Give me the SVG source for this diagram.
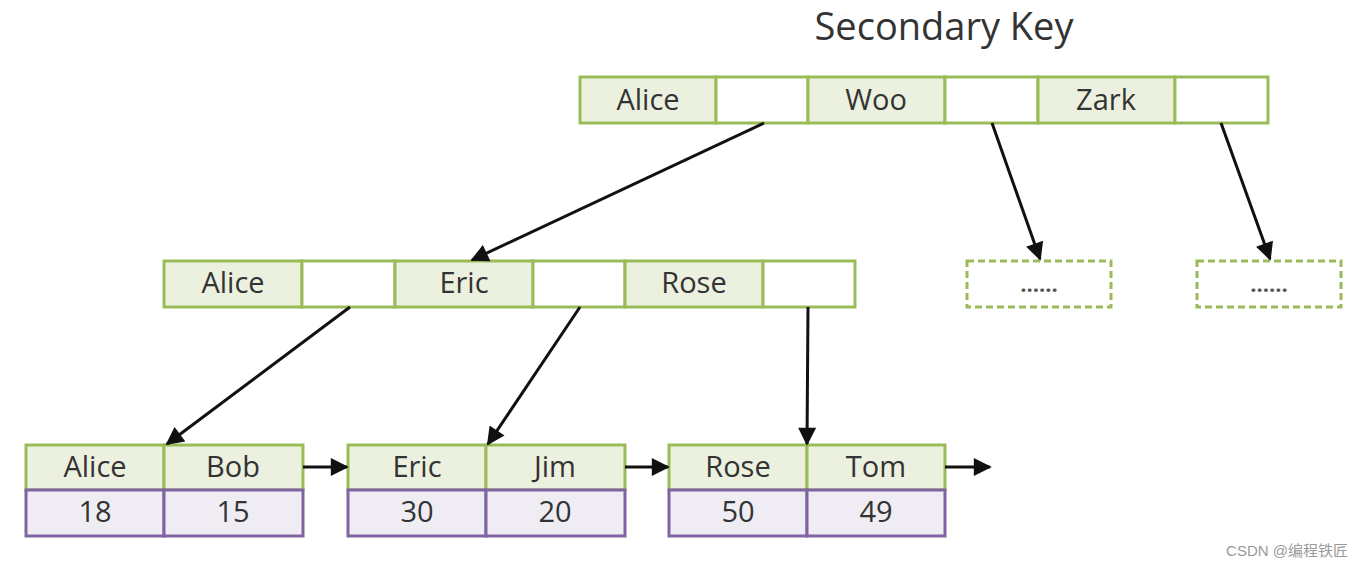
<svg xmlns="http://www.w3.org/2000/svg" width="1362" height="568" viewBox="0 0 1362 568">
<defs>
<style>
.k{fill:#ebf1de;stroke:#9bbb59;stroke-width:3}
.p{fill:#ffffff;stroke:#9bbb59;stroke-width:3}
.v{fill:#efecf4;stroke:#8064a2;stroke-width:3}
.d{fill:#ffffff;stroke:#9bbb59;stroke-width:3;stroke-dasharray:7 4}
.t{font-family:"Open Sans","Liberation Sans",sans-serif;font-size:29px;fill:#333333;text-anchor:middle}
.dots{font-family:"Open Sans","Liberation Sans",sans-serif;font-size:22px;font-weight:bold;fill:#555555;text-anchor:middle}
.c{stroke:#111111;stroke-width:3;fill:none;marker-end:url(#ah)}
</style>
<marker id="ah" viewBox="0 0 10 10" refX="9" refY="5" markerWidth="6.5" markerHeight="6" orient="auto" markerUnits="strokeWidth">
<path d="M0,0 L10,5 L0,10 z" fill="#111111"/>
</marker>
</defs>
<rect width="1362" height="568" fill="#ffffff"/>
<text x="944" y="40" font-family="Open Sans, Liberation Sans, sans-serif" font-size="38" fill="#333333" text-anchor="middle">Secondary Key</text>

<g id="root">
<rect class="k" x="580" y="77" width="136" height="46"/>
<rect class="p" x="716" y="77" width="92" height="46"/>
<rect class="k" x="808" y="77" width="137" height="46"/>
<rect class="p" x="945" y="77" width="93" height="46"/>
<rect class="k" x="1038" y="77" width="137" height="46"/>
<rect class="p" x="1175" y="77" width="93" height="46"/>
<text class="t" x="648" y="110">Alice</text>
<text class="t" x="876" y="110">Woo</text>
<text class="t" x="1106" y="110">Zark</text>
</g>

<g id="mid">
<rect class="k" x="164" y="261" width="138" height="46"/>
<rect class="p" x="302" y="261" width="93" height="46"/>
<rect class="k" x="395" y="261" width="138" height="46"/>
<rect class="p" x="533" y="261" width="92" height="46"/>
<rect class="k" x="625" y="261" width="138" height="46"/>
<rect class="p" x="763" y="261" width="92" height="46"/>
<text class="t" x="233" y="293">Alice</text>
<text class="t" x="464" y="293">Eric</text>
<text class="t" x="694" y="293">Rose</text>
</g>

<g id="dash1">
<rect class="d" x="967" y="261" width="144" height="46"/>
<text class="dots" x="1039" y="292">......</text>
</g>
<g id="dash2">
<rect class="d" x="1197" y="261" width="144" height="46"/>
<text class="dots" x="1269" y="292">......</text>
</g>

<g id="leaf1">
<rect class="k" x="26" y="445" width="138" height="45"/>
<rect class="k" x="164" y="445" width="139" height="45"/>
<rect class="v" x="26" y="490" width="138" height="46"/>
<rect class="v" x="164" y="490" width="139" height="46"/>
<text class="t" x="95" y="477">Alice</text>
<text class="t" x="233" y="477">Bob</text>
<text class="t" x="95" y="522">18</text>
<text class="t" x="233" y="522">15</text>
</g>

<g id="leaf2">
<rect class="k" x="348" y="445" width="138" height="45"/>
<rect class="k" x="486" y="445" width="139" height="45"/>
<rect class="v" x="348" y="490" width="138" height="46"/>
<rect class="v" x="486" y="490" width="139" height="46"/>
<text class="t" x="417" y="477">Eric</text>
<text class="t" x="555" y="477">Jim</text>
<text class="t" x="417" y="522">30</text>
<text class="t" x="555" y="522">20</text>
</g>

<g id="leaf3">
<rect class="k" x="669" y="445" width="138" height="45"/>
<rect class="k" x="807" y="445" width="138" height="45"/>
<rect class="v" x="669" y="490" width="138" height="46"/>
<rect class="v" x="807" y="490" width="138" height="46"/>
<text class="t" x="738" y="477">Rose</text>
<text class="t" x="876" y="477">Tom</text>
<text class="t" x="738" y="522">50</text>
<text class="t" x="876" y="522">49</text>
</g>

<g id="connectors">
<line class="c" x1="764" y1="123" x2="472" y2="260"/>
<line class="c" x1="992" y1="123" x2="1040" y2="259"/>
<line class="c" x1="1221" y1="123" x2="1270" y2="259"/>
<line class="c" x1="350" y1="307" x2="167" y2="444"/>
<line class="c" x1="580" y1="307" x2="488" y2="444"/>
<line class="c" x1="808" y1="307" x2="807" y2="444"/>
<line class="c" x1="303" y1="467" x2="347" y2="467"/>
<line class="c" x1="625" y1="467" x2="668" y2="467"/>
<line class="c" x1="945" y1="467" x2="990" y2="467"/>
</g>

<text x="1348" y="556" font-family="Liberation Sans, Noto Sans CJK SC, sans-serif" font-size="15" fill="#9a9a9a" text-anchor="end">CSDN @编程铁匠</text>
</svg>
